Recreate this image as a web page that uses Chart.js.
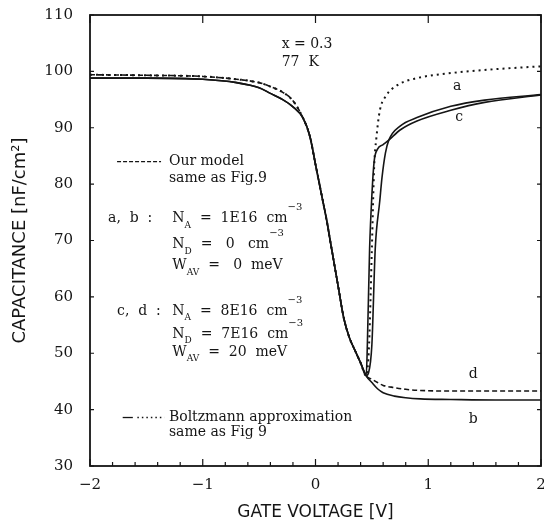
<!DOCTYPE html>
<html>
<head>
<meta charset="utf-8">
<script src="https://cdn.jsdelivr.net/npm/chart.js@4.4.1/dist/chart.umd.min.js"></script>
<style>
  html, body { margin: 0; padding: 0; background: #fff; }
  #box { width: 544px; height: 532px; }
</style>
</head>
<body>
<div id="box"><canvas id="graph"></canvas></div>
<script>
// gate voltage [V] / capacitance [nF/cm2]
const vDescente = [-2, -1.5, -1, -0.7, -0.5, -0.4, -0.3, -0.2, -0.11, -0.05, 0, 0.05, 0.1, 0.13, 0.2, 0.25, 0.3, 0.35, 0.4, 0.45];
const cDescenteHaut = [99.4, 99.3, 99.1, 98.6, 98.0, 97.3, 96.4, 94.8, 91.7, 88.5, 83.5, 78.5, 73.5, 70, 62, 56.3, 52.8, 50.5, 48.3, 46];
const cDescenteBas = [98.8, 98.8, 98.6, 98.0, 97.1, 96.1, 95.1, 93.7, 91.7, 88.5, 83.5, 78.5, 73.5, 70, 62, 56.3, 52.8, 50.5, 48.3, 46];

// curve a (dotted) going back up
const vMonteeA = [0.475, 0.5, 0.52, 0.54, 0.57, 0.62, 0.73, 0.9, 1.2, 1.6, 2];
const cMonteeA = [51.5, 68.6, 83, 88.2, 93, 95.5, 97.6, 98.8, 99.7, 100.4, 100.9];

// curve c (solid) and its twin
const vMonteeC = [0.46, 0.48, 0.5, 0.52, 0.55, 0.6, 0.65, 0.75, 0.9, 1.2, 1.5, 2];
const cMonteeC = [51.5, 68.6, 78, 84, 86.2, 87, 87.8, 89.6, 91.2, 93.1, 94.5, 95.8];
const vMonteeC2 = [0.45, 0.47, 0.5, 0.53, 0.57, 0.59, 0.62, 0.65, 0.75, 0.9, 1.2, 1.5, 2];
const cMonteeC2 = [46, 46.5, 51.5, 68.6, 77, 81.2, 85.5, 87.8, 90.3, 91.8, 93.8, 94.9, 95.9];

// curves b and d staying low
const vPalier = [0.5, 0.55, 0.6, 0.7, 0.8, 0.93, 1.2, 1.6, 2];
const cPalierB = [44.8, 43.7, 43.0, 42.4, 42.1, 41.9, 41.8, 41.7, 41.7];
const cPalierD = [45.4, 44.8, 44.3, 43.9, 43.6, 43.4, 43.3, 43.3, 43.3];

const xTicks = [-2, -1, 0, 1, 2];
const yTicks = [30, 40, 50, 60, 70, 80, 90, 100, 110];

const ENCRE = '#151515';
const SERIF = '"DejaVu Serif"';

function points(vs, cs) {
  return vs.map((v, i) => ({ x: v, y: cs[i] }));
}

function courbe(data, dash, width) {
  return {
    data: data,
    showLine: true,
    fill: false,
    borderColor: ENCRE,
    borderWidth: width,
    borderDash: dash,
    pointRadius: 0,
    cubicInterpolationMode: 'monotone'
  };
}

/**
 * texte avec indices / exposants
 */
function ecrire(ctx, x, y, parts) {
  parts.forEach(([t, k]) => {
    let size = 14, dy = 0;
    if (k === 'sub') { size = 9; dy = 7; }
    if (k === 'sup') { size = 10; dy = -11; }
    ctx.font = size + 'px ' + SERIF;
    ctx.fillText(t, x, y + dy);
    x += ctx.measureText(t).width;
  });
}

// annotations, positioned in data units
const textes = [
  { v: -0.3, c: 104.8, parts: [['x = 0.3']] },
  { v: -0.3, c: 101.6, parts: [['77  K']] },
  { v: -1.30, c: 84.0, parts: [['Our model']] },
  { v: -1.30, c: 81.0, parts: [['same as Fig.9']] },
  { v: -1.84, c: 73.9, parts: [['a,  b  :']] },
  { v: -1.27, c: 73.9, parts: [['N'], ['A', 'sub'], ['  =  1E16  cm'], ['−3', 'sup']] },
  { v: -1.27, c: 69.3, parts: [['N'], ['D', 'sub'], ['  =   0   cm'], ['−3', 'sup']] },
  { v: -1.27, c: 65.6, parts: [['W'], ['AV', 'sub'], ['  =   0  meV']] },
  { v: -1.76, c: 57.5, parts: [['c,  d  :']] },
  { v: -1.27, c: 57.5, parts: [['N'], ['A', 'sub'], ['  =  8E16  cm'], ['−3', 'sup']] },
  { v: -1.27, c: 53.4, parts: [['N'], ['D', 'sub'], ['  =  7E16  cm'], ['−3', 'sup']] },
  { v: -1.27, c: 50.2, parts: [['W'], ['AV', 'sub'], ['  =  20  meV']] },
  { v: -1.30, c: 38.6, parts: [['Boltzmann approximation']] },
  { v: -1.30, c: 35.9, parts: [['same as Fig 9']] },
  { v: 1.22, c: 97.3, parts: [['a']] },
  { v: 1.24, c: 91.8, parts: [['c']] },
  { v: 1.36, c: 46.2, parts: [['d']] },
  { v: 1.36, c: 38.2, parts: [['b']] }
];

const habillage = {
  id: 'habillage',
  afterDraw(chart) {
    const { ctx, chartArea: a, scales: { x, y } } = chart;
    ctx.save();
    ctx.strokeStyle = ENCRE;
    ctx.fillStyle = ENCRE;

    // cadre
    ctx.lineWidth = 1.8;
    ctx.strokeRect(a.left, a.top, a.right - a.left, a.bottom - a.top);

    // petites graduations vers l'interieur
    ctx.lineWidth = 1.2;
    ctx.beginPath();
    for (let i = -10; i <= 10; i++) {
      const px = x.getPixelForValue(i / 5);
      const len = i % 5 === 0 ? 7 : 4;
      ctx.moveTo(px, a.bottom); ctx.lineTo(px, a.bottom - len);
      if (i % 5 === 0) { ctx.moveTo(px, a.top); ctx.lineTo(px, a.top + 8); }
    }
    yTicks.forEach(v => {
      const py = y.getPixelForValue(v);
      ctx.moveTo(a.left, py); ctx.lineTo(a.left + 4, py);
      ctx.moveTo(a.right, py); ctx.lineTo(a.right - 4, py);
    });
    ctx.stroke();

    // legendes des traits
    ctx.lineWidth = 1.3;
    ctx.setLineDash([4, 2]);
    ctx.beginPath();
    ctx.moveTo(x.getPixelForValue(-1.76), y.getPixelForValue(84));
    ctx.lineTo(x.getPixelForValue(-1.37), y.getPixelForValue(84));
    ctx.stroke();
    ctx.setLineDash([]);
    ctx.beginPath();
    ctx.moveTo(x.getPixelForValue(-1.71), y.getPixelForValue(38.6));
    ctx.lineTo(x.getPixelForValue(-1.62), y.getPixelForValue(38.6));
    ctx.stroke();
    ctx.setLineDash([1.5, 3]);
    ctx.beginPath();
    ctx.moveTo(x.getPixelForValue(-1.58), y.getPixelForValue(38.6));
    ctx.lineTo(x.getPixelForValue(-1.34), y.getPixelForValue(38.6));
    ctx.stroke();
    ctx.setLineDash([]);

    ctx.textBaseline = 'middle';
    ctx.textAlign = 'left';
    textes.forEach(t => ecrire(ctx, x.getPixelForValue(t.v), y.getPixelForValue(t.c), t.parts));
    ctx.restore();
  }
};

function dessine() {
  const data = {
    datasets: [
      courbe(points(vDescente, cDescenteHaut).concat(points(vMonteeA, cMonteeA)), [2, 4], 2),
      courbe(points(vDescente, cDescenteHaut).concat(points(vPalier, cPalierD)), [5, 3], 1.6),
      courbe(points(vDescente, cDescenteBas).concat(points(vPalier, cPalierB)), [], 1.6),
      courbe(points(vDescente, cDescenteBas).concat(points(vMonteeC, cMonteeC)), [], 1.6),
      courbe(points(vMonteeC2, cMonteeC2), [], 1.6)
    ]
  };
  const options = {
    animation: false,
    responsive: true,
    maintainAspectRatio: false,
    layout: { padding: { top: 15, right: 3, left: 0, bottom: 0 } },
    plugins: { legend: { display: false }, tooltip: { enabled: false } },
    scales: {
      x: {
        type: 'linear', min: -2, max: 2,
        afterBuildTicks: s => { s.ticks = xTicks.map(v => ({ value: v })); },
        afterFit: s => { s.height = 66; s.paddingLeft = 0; s.paddingRight = 0; },
        grid: { display: false, drawTicks: false },
        border: { display: false },
        ticks: {
          padding: 10, color: ENCRE, maxRotation: 0,
          font: { family: 'DejaVu Serif', size: 15 },
          callback: v => (v < 0 ? '−' + Math.abs(v) : '' + v)
        },
        title: {
          display: true, text: 'GATE VOLTAGE [V]', color: ENCRE,
          font: { family: 'DejaVu Sans', size: 17 },
          padding: { top: 0, bottom: 9 }
        }
      },
      y: {
        type: 'linear', min: 30, max: 110,
        afterBuildTicks: s => { s.ticks = yTicks.map(v => ({ value: v })); },
        afterFit: s => { s.width = 90; s.paddingTop = 0; s.paddingBottom = 0; },
        grid: { display: false, drawTicks: false },
        border: { display: false },
        ticks: { padding: 17, color: ENCRE, font: { family: 'DejaVu Serif', size: 15 } },
        title: {
          display: true, text: 'CAPACITANCE [nF/cm²]', color: ENCRE,
          font: { family: 'DejaVu Sans', size: 18 },
          padding: { top: 10, bottom: 0 }
        }
      }
    }
  };
  new Chart(document.getElementById('graph'), { type: 'scatter', data: data, options: options, plugins: [habillage] });
}

dessine();
</script>
</body>
</html>
